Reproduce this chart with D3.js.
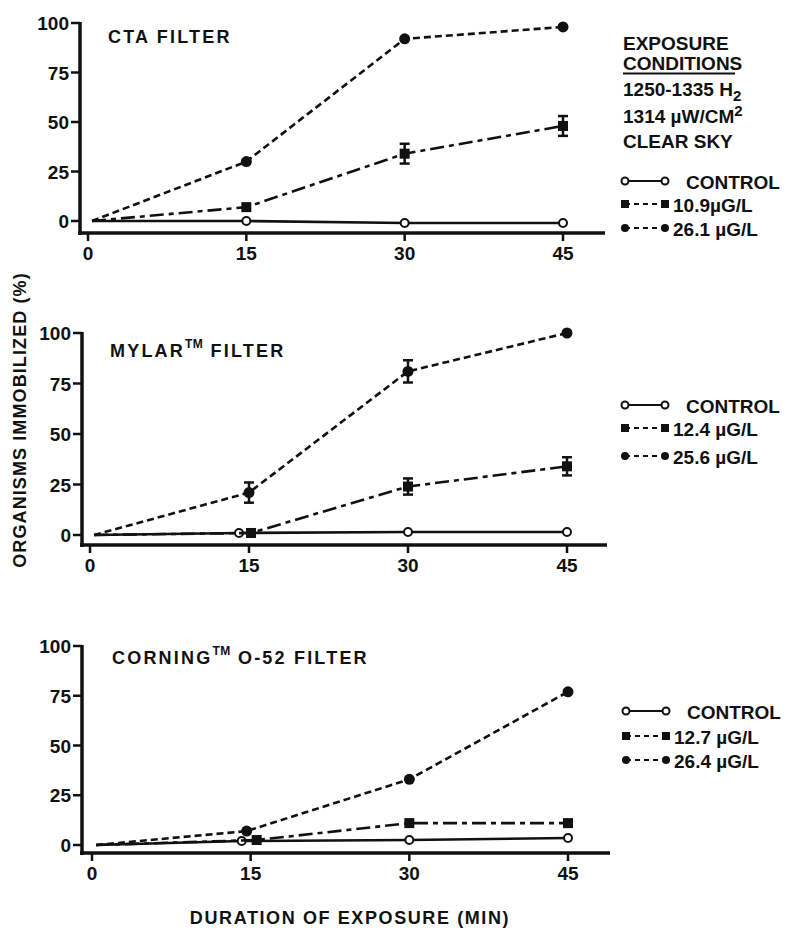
<!DOCTYPE html>
<html>
<head>
<meta charset="utf-8">
<script src="https://cdn.jsdelivr.net/npm/d3@7"></script>
<style>
  html, body { margin: 0; padding: 0; background: #fff; }
  svg { display: block; }
  text { font-family: "Liberation Sans", Arial, sans-serif; font-weight: bold; fill: #111; }
</style>
</head>
<body>
<svg id="chart" width="785" height="930"></svg>
<script>
// ---------------- DATA ----------------
const minutes = [0, 15, 30, 45];
const xTickValues = [0, 15, 30, 45];
const yTickValues = [0, 25, 50, 75, 100];

// Panel 1: CTA filter
const ctaControl = [0, 0, -1, -1];
const cta109 = [0, 7, 34, 48];
const cta109Err = [0, 0, 5, 5];
const cta261 = [0, 30, 92, 98];
const cta261Err = [0, 0, 0, 0];

// Panel 2: Mylar filter
const mylarControl = [0, 1, 1.5, 1.5];
const mylar124 = [0, 1, 24, 34];
const mylar124Err = [0, 0, 4, 4.5];
const mylar256 = [0, 21, 81, 100];
const mylar256Err = [0, 5, 5.5, 0];

// Panel 3: Corning O-52 filter
const corningControl = [0, 2, 2.5, 3.5];
const corning127 = [0, 2.5, 11, 11];
const corning127Err = [0, 0, 0, 0];
const corning264 = [0, 7, 33, 77];
const corning264Err = [0, 0, 0, 0];

const legendCTA = ["CONTROL", "10.9\u00B5G/L", "26.1 \u00B5G/L"];
const legendMylar = ["CONTROL", "12.4 \u00B5G/L", "25.6 \u00B5G/L"];
const legendCorning = ["CONTROL", "12.7 \u00B5G/L", "26.4 \u00B5G/L"];

const yAxisLabel = "ORGANISMS IMMOBILIZED (%)";
const xAxisLabel = "DURATION OF EXPOSURE (MIN)";

// ---------------- LAYOUT ----------------
const panels = [
  { title: [["CTA FILTER", false]],
    y0: 221, y100: 23, axisY: 233, axisX: 80, x0: 88, x45: 563, axisEnd: 605,
    titleX: 108, titleY: 43,
    legendX: 622, legendY: [181, 204, 228], legend: legendCTA,
    nudge: [0, 0, 0],
    control: ctaControl, mid: cta109, midErr: cta109Err, high: cta261, highErr: cta261Err },
  { title: [["MYLAR", false], ["TM", true], [" FILTER", false]],
    y0: 535, y100: 333, axisY: 545, axisX: 82, x0: 90, x45: 567, axisEnd: 607,
    titleX: 110, titleY: 357,
    legendX: 622, legendY: [405, 428, 456], legend: legendMylar,
    nudge: [-10, 2, 0],
    control: mylarControl, mid: mylar124, midErr: mylar124Err, high: mylar256, highErr: mylar256Err },
  { title: [["CORNING", false], ["TM", true], [" O-52 FILTER", false]],
    y0: 845, y100: 646, axisY: 853, axisX: 82, x0: 92, x45: 568, axisEnd: 610,
    titleX: 112, titleY: 664,
    legendX: 623, legendY: [711, 736, 760], legend: legendCorning,
    nudge: [-9, 6, -4],
    control: corningControl, mid: corning127, midErr: corning127Err, high: corning264, highErr: corning264Err }
];

const svg = d3.select("#chart");
const ink = "#111";

panels.forEach(p => {
  const g = svg.append("g");
  const x = d3.scaleLinear().domain([0, 45]).range([p.x0, p.x45]);
  const y = d3.scaleLinear().domain([0, 100]).range([p.y0, p.y100]);

  // Y axis line
  g.append("line").attr("x1", p.axisX).attr("x2", p.axisX)
    .attr("y1", p.y100 - 1).attr("y2", p.axisY + 2)
    .attr("stroke", ink).attr("stroke-width", 3.5);
  // Y ticks
  yTickValues.forEach(v => {
    g.append("line").attr("x1", p.axisX - 9).attr("x2", p.axisX)
      .attr("y1", y(v)).attr("y2", y(v)).attr("stroke", ink).attr("stroke-width", 2.5);
    g.append("text").attr("x", p.axisX - 11).attr("y", y(v) + 7)
      .attr("text-anchor", "end").attr("font-size", 19).text(v);
  });
  // X axis line
  g.append("line").attr("x1", p.axisX - 2).attr("x2", p.axisEnd)
    .attr("y1", p.axisY).attr("y2", p.axisY)
    .attr("stroke", ink).attr("stroke-width", 3.5);
  xTickValues.forEach(v => {
    g.append("line").attr("x1", x(v)).attr("x2", x(v))
      .attr("y1", p.axisY).attr("y2", p.axisY + 8).attr("stroke", ink).attr("stroke-width", 2.5);
    g.append("text").attr("x", x(v)).attr("y", p.axisY + 27)
      .attr("text-anchor", "middle").attr("font-size", 19).text(v);
  });

  // Title
  const t = g.append("text").attr("x", p.titleX).attr("y", p.titleY)
    .attr("font-size", 18).attr("letter-spacing", 2.2);
  p.title.forEach(([s, sup], idx) => {
    if (sup) t.append("tspan").attr("dy", -9).attr("font-size", 12).attr("letter-spacing", 0.5).text(s);
    else {
      const ts = t.append("tspan").text(s);
      if (idx > 0) ts.attr("dy", 9);
    }
  });

  // Series
  const series = [
    { vals: p.control, err: null, dash: null, kind: "open", nudge: p.nudge[0] },
    { vals: p.mid, err: p.midErr, dash: "14,5,5,5", kind: "square", nudge: p.nudge[1] },
    { vals: p.high, err: p.highErr, dash: "7,4", kind: "dot", nudge: p.nudge[2] }
  ];
  const line = d3.line().x(d => d.px).y(d => d.py);
  series.forEach(s => {
    const pts = minutes.map((m, i) => ({
      px: x(m) + (m === 15 ? s.nudge : 0) + (m === 0 ? 4 : 0),
      py: y(s.vals[i]), v: s.vals[i], e: s.err ? s.err[i] : 0, m
    }));
    g.append("path").datum(pts).attr("d", line).attr("fill", "none")
      .attr("stroke", ink).attr("stroke-width", 2.6)
      .attr("stroke-dasharray", s.dash);
    pts.filter(d => d.e > 0).forEach(d => {
      const yt = y(d.v + d.e), yb = y(d.v - d.e);
      g.append("line").attr("x1", d.px).attr("x2", d.px).attr("y1", yt).attr("y2", yb)
        .attr("stroke", ink).attr("stroke-width", 2.5);
      [yt, yb].forEach(yy => g.append("line").attr("x1", d.px - 5).attr("x2", d.px + 5)
        .attr("y1", yy).attr("y2", yy).attr("stroke", ink).attr("stroke-width", 2.5));
    });
    pts.filter(d => d.m > 0).forEach(d => {
      if (s.kind === "open") {
        g.append("circle").attr("cx", d.px).attr("cy", d.py).attr("r", 4)
          .attr("fill", "#fff").attr("stroke", ink).attr("stroke-width", 2);
      } else if (s.kind === "square") {
        g.append("rect").attr("x", d.px - 5).attr("y", d.py - 5).attr("width", 10).attr("height", 10)
          .attr("fill", ink);
      } else {
        g.append("circle").attr("cx", d.px).attr("cy", d.py).attr("r", 5.5).attr("fill", ink);
      }
    });
  });

  // Legend
  const lx1 = p.legendX + 3, lx2 = p.legendX + 43;
  p.legend.forEach((label, i) => {
    const ly = p.legendY[i];
    g.append("line").attr("x1", lx1).attr("x2", lx2).attr("y1", ly).attr("y2", ly)
      .attr("stroke", ink).attr("stroke-width", 2.2)
      .attr("stroke-dasharray", i === 0 ? null : "5,4");
    if (i === 0) {
      [lx1, lx2].forEach(cx => g.append("circle").attr("cx", cx).attr("cy", ly).attr("r", 3.5)
        .attr("fill", "#fff").attr("stroke", ink).attr("stroke-width", 2));
    } else if (i === 1) {
      [lx1, lx2].forEach(cx => g.append("rect").attr("x", cx - 4).attr("y", ly - 4)
        .attr("width", 8).attr("height", 8).attr("fill", ink));
    } else {
      [lx1, lx2].forEach(cx => g.append("circle").attr("cx", cx).attr("cy", ly).attr("r", 4).attr("fill", ink));
    }
    g.append("text").attr("x", i === 0 ? p.legendX + 64 : p.legendX + 51)
      .attr("y", ly + 7.5).attr("font-size", 19).text(label);
  });
});

// Exposure conditions block
const ex = 623;
svg.append("text").attr("x", ex).attr("y", 50).attr("font-size", 19).text("EXPOSURE");
svg.append("text").attr("x", ex).attr("y", 70).attr("font-size", 19).text("CONDITIONS");
svg.append("line").attr("x1", ex).attr("x2", ex + 112).attr("y1", 73.5).attr("y2", 73.5)
  .attr("stroke", ink).attr("stroke-width", 1.8);
const l3 = svg.append("text").attr("x", ex).attr("y", 96).attr("font-size", 19);
l3.append("tspan").text("1250-1335 H");
l3.append("tspan").attr("dy", 5).attr("font-size", 15).text("2");
const l4 = svg.append("text").attr("x", ex).attr("y", 123).attr("font-size", 19);
l4.append("tspan").text("1314 \u00B5W/CM");
l4.append("tspan").attr("dy", -7).attr("font-size", 15).text("2");
svg.append("text").attr("x", ex).attr("y", 148).attr("font-size", 19).text("CLEAR SKY");

// Axis labels
svg.append("text").attr("transform", "translate(26,420) rotate(-90)")
  .attr("text-anchor", "middle").attr("font-size", 18).attr("letter-spacing", 1.1).text(yAxisLabel);
svg.append("text").attr("x", 350).attr("y", 924)
  .attr("text-anchor", "middle").attr("font-size", 18).attr("letter-spacing", 1.6).text(xAxisLabel);
</script>
</body>
</html>
